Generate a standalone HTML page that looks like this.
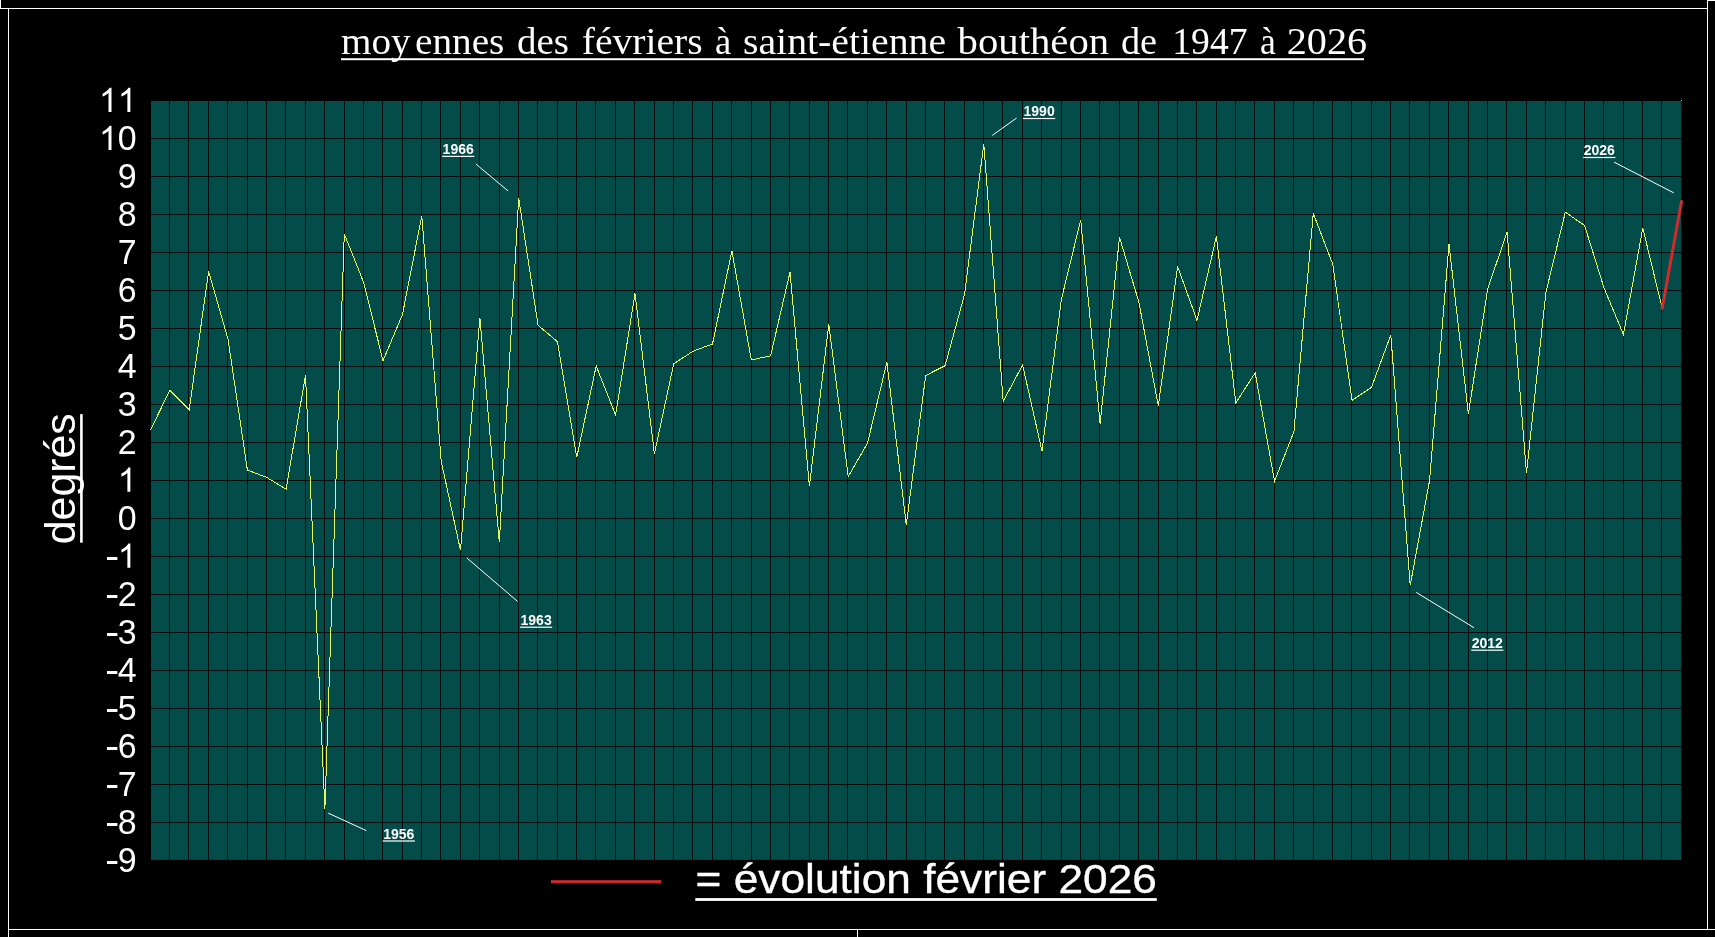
<!DOCTYPE html>
<html lang="fr"><head><meta charset="utf-8"><title>moyennes des février</title>
<style>
html,body{margin:0;padding:0;background:#000;overflow:hidden}
body{width:1715px;height:937px;position:relative;font-family:"Liberation Sans",sans-serif;color:#fff}
svg{position:absolute;left:0;top:0;display:block;will-change:transform}
.t{font-family:"Liberation Serif",serif;fill:#fff}
.a{font-family:"Liberation Sans",sans-serif;fill:#fff}
.b{font-family:"Liberation Sans",sans-serif;font-weight:bold;fill:#fff}
</style></head><body>
<svg width="1715" height="937" viewBox="0 0 1715 937">
<rect x="0" y="0" width="1715" height="937" fill="#000"/>
<g fill="#fff" shape-rendering="crispEdges">
<rect x="0" y="0" width="1" height="9"/>
<rect x="0" y="8" width="1708" height="1"/>
<rect x="8" y="8" width="1" height="929"/>
<rect x="1707" y="0" width="1" height="930"/>
<rect x="1707" y="0" width="8" height="1"/>
<rect x="8" y="929" width="1707" height="1"/>
<rect x="857" y="929" width="1" height="8"/>
</g>
<rect x="151" y="101" width="1530.2" height="758.9" fill="#034c4a"/>
<path d="M169.5 101V860M188.5 101V860M208.5 101V860M227.5 101V860M247.5 101V860M266.5 101V860M285.5 101V860M305.5 101V860M324.5 101V860M344.5 101V860M363.5 101V860M382.5 101V860M402.5 101V860M421.5 101V860M440.5 101V860M460.5 101V860M479.5 101V860M499.5 101V860M518.5 101V860M537.5 101V860M557.5 101V860M576.5 101V860M595.5 101V860M615.5 101V860M634.5 101V860M654.5 101V860M673.5 101V860M692.5 101V860M712.5 101V860M731.5 101V860M751.5 101V860M770.5 101V860M789.5 101V860M809.5 101V860M828.5 101V860M847.5 101V860M867.5 101V860M886.5 101V860M906.5 101V860M925.5 101V860M944.5 101V860M964.5 101V860M983.5 101V860M1002.5 101V860M1022.5 101V860M1041.5 101V860M1061.5 101V860M1080.5 101V860M1099.5 101V860M1119.5 101V860M1138.5 101V860M1158.5 101V860M1177.5 101V860M1196.5 101V860M1216.5 101V860M1235.5 101V860M1254.5 101V860M1274.5 101V860M1293.5 101V860M1313.5 101V860M1332.5 101V860M1351.5 101V860M1371.5 101V860M1390.5 101V860M1409.5 101V860M1429.5 101V860M1448.5 101V860M1468.5 101V860M1487.5 101V860M1506.5 101V860M1526.5 101V860M1545.5 101V860M1565.5 101V860M1584.5 101V860M1603.5 101V860M1623.5 101V860M1642.5 101V860M1661.5 101V860M151 138.5H1681M151 176.5H1681M151 214.5H1681M151 252.5H1681M151 290.5H1681M151 328.5H1681M151 366.5H1681M151 404.5H1681M151 442.5H1681M151 480.5H1681M151 518.5H1681M151 556.5H1681M151 594.5H1681M151 632.5H1681M151 670.5H1681M151 708.5H1681M151 746.5H1681M151 784.5H1681M151 822.5H1681" stroke="#000d0d" stroke-width="1" fill="none" shape-rendering="crispEdges"/>
<path d="M150.4 430.2 L169.8 390.4 L189.2 409.7 L208.6 271.4 L228.0 339.1 L247.4 470.1 L266.7 477.4 L286.1 489.1 L305.5 375.2 L324.9 809.1 L344.3 233.8 L363.6 282.4 L383.0 360.7 L402.4 314.7 L421.8 216.0 L441.2 461.4 L460.5 550.3 L479.9 317.8 L499.3 542.3 L518.7 198.1 L538.1 325.4 L557.5 341.7 L576.8 457.2 L596.2 366.0 L615.6 415.0 L635.0 293.5 L654.4 453.8 L673.7 363.8 L693.1 351.2 L712.5 344.0 L731.9 250.9 L751.3 360.0 L770.6 355.8 L790.0 272.2 L809.4 486.1 L828.8 324.2 L848.2 476.6 L867.5 443.2 L886.9 362.2 L906.3 524.9 L925.7 375.5 L945.1 365.7 L964.5 294.6 L983.8 143.8 L1003.2 401.4 L1022.6 364.9 L1042.0 451.1 L1061.4 299.2 L1080.7 220.1 L1100.1 423.8 L1119.5 237.2 L1138.9 302.2 L1158.3 405.9 L1177.6 266.5 L1197.0 320.4 L1216.4 236.5 L1235.8 402.9 L1255.2 372.9 L1274.5 481.2 L1293.9 431.8 L1313.3 213.3 L1332.7 264.2 L1352.1 400.2 L1371.5 387.3 L1390.8 334.9 L1410.2 585.3 L1429.6 480.4 L1449.0 244.1 L1468.4 413.9 L1487.7 288.9 L1507.1 231.9 L1526.5 473.2 L1545.9 292.3 L1565.3 212.2 L1584.6 225.5 L1604.0 287.8 L1623.4 334.5 L1642.8 228.1 L1662.2 308.3" stroke="#e2f760" stroke-width="1" fill="none" stroke-linejoin="miter" shape-rendering="crispEdges"/>
<path d="M1662.2 308.3L1681.5 201.5" stroke="#d02b2b" stroke-width="3" fill="none" stroke-linecap="round"/>
<rect x="1681" y="100" width="1" height="1" fill="#ddd"/>
<text class="b" x="442.6" y="154.1" font-size="14" textLength="31.2" lengthAdjust="spacingAndGlyphs">1966</text>
<rect x="442.1" y="155.8" width="32.2" height="1.2" fill="#fff"/>
<path d="M475.9 164.0L508.0 190.9" stroke="#fff" stroke-width="1" fill="none"/>
<text class="b" x="383.2" y="838.8" font-size="14" textLength="31.2" lengthAdjust="spacingAndGlyphs">1956</text>
<rect x="382.7" y="840.4" width="32.2" height="1.2" fill="#fff"/>
<path d="M328.2 813.1L366.3 830.6" stroke="#fff" stroke-width="1" fill="none"/>
<text class="b" x="520.5" y="625.0" font-size="14" textLength="31.2" lengthAdjust="spacingAndGlyphs">1963</text>
<rect x="520.0" y="626.6" width="32.2" height="1.2" fill="#fff"/>
<path d="M466.8 557.9L517.7 601.5" stroke="#fff" stroke-width="1" fill="none"/>
<text class="b" x="1023.5" y="116.1" font-size="14" textLength="31.2" lengthAdjust="spacingAndGlyphs">1990</text>
<rect x="1023.0" y="117.9" width="32.2" height="1.2" fill="#fff"/>
<path d="M992.3 135.4L1016.6 118.0" stroke="#fff" stroke-width="1" fill="none"/>
<text class="b" x="1583.7" y="155.1" font-size="14" textLength="31.2" lengthAdjust="spacingAndGlyphs">2026</text>
<rect x="1583.2" y="156.9" width="32.2" height="1.2" fill="#fff"/>
<path d="M1614.0 162.1L1673.7 192.8" stroke="#fff" stroke-width="1" fill="none"/>
<text class="b" x="1471.7" y="647.8" font-size="14" textLength="31.2" lengthAdjust="spacingAndGlyphs">2012</text>
<rect x="1471.2" y="649.6" width="32.2" height="1.2" fill="#fff"/>
<path d="M1416.2 592.4L1474.0 627.7" stroke="#fff" stroke-width="1" fill="none"/>
<path d="M763 0H583V1147Q518 1085 412 1023Q307 961 223 930V1104Q374 1175 487 1276Q600 1377 647 1472H763Z" fill="#fff" transform="translate(117.72,111.9) scale(0.01658,-0.01649)"/>
<path d="M763 0H583V1147Q518 1085 412 1023Q307 961 223 930V1104Q374 1175 487 1276Q600 1377 647 1472H763Z" fill="#fff" transform="translate(98.85,111.9) scale(0.01658,-0.01649)"/>
<text class="a" transform="translate(136.60,149.9) scale(0.97,1)" font-size="35" text-anchor="end">0</text>
<path d="M763 0H583V1147Q518 1085 412 1023Q307 961 223 930V1104Q374 1175 487 1276Q600 1377 647 1472H763Z" fill="#fff" transform="translate(98.85,149.9) scale(0.01658,-0.01649)"/>
<text class="a" transform="translate(136.60,187.9) scale(0.97,1)" font-size="35" text-anchor="end">9</text>
<text class="a" transform="translate(136.60,225.9) scale(0.97,1)" font-size="35" text-anchor="end">8</text>
<text class="a" transform="translate(136.60,263.9) scale(0.97,1)" font-size="35" text-anchor="end">7</text>
<text class="a" transform="translate(136.60,301.9) scale(0.97,1)" font-size="35" text-anchor="end">6</text>
<text class="a" transform="translate(136.60,339.9) scale(0.97,1)" font-size="35" text-anchor="end">5</text>
<text class="a" transform="translate(136.60,377.9) scale(0.97,1)" font-size="35" text-anchor="end">4</text>
<text class="a" transform="translate(136.60,415.9) scale(0.97,1)" font-size="35" text-anchor="end">3</text>
<text class="a" transform="translate(136.60,453.9) scale(0.97,1)" font-size="35" text-anchor="end">2</text>
<path d="M763 0H583V1147Q518 1085 412 1023Q307 961 223 930V1104Q374 1175 487 1276Q600 1377 647 1472H763Z" fill="#fff" transform="translate(117.72,491.8) scale(0.01658,-0.01649)"/>
<text class="a" transform="translate(136.60,529.8) scale(0.97,1)" font-size="35" text-anchor="end">0</text>
<path d="M763 0H583V1147Q518 1085 412 1023Q307 961 223 930V1104Q374 1175 487 1276Q600 1377 647 1472H763Z" fill="#fff" transform="translate(117.72,567.8) scale(0.01658,-0.01649)"/>
<rect x="107.0" y="557.0" width="10.4" height="3" fill="#fff"/>
<text class="a" transform="translate(136.60,605.8) scale(0.97,1)" font-size="35" text-anchor="end">2</text>
<rect x="107.0" y="595.0" width="10.4" height="3" fill="#fff"/>
<text class="a" transform="translate(136.60,643.8) scale(0.97,1)" font-size="35" text-anchor="end">3</text>
<rect x="107.0" y="633.0" width="10.4" height="3" fill="#fff"/>
<text class="a" transform="translate(136.60,681.8) scale(0.97,1)" font-size="35" text-anchor="end">4</text>
<rect x="107.0" y="671.0" width="10.4" height="3" fill="#fff"/>
<text class="a" transform="translate(136.60,719.8) scale(0.97,1)" font-size="35" text-anchor="end">5</text>
<rect x="107.0" y="709.0" width="10.4" height="3" fill="#fff"/>
<text class="a" transform="translate(136.60,757.8) scale(0.97,1)" font-size="35" text-anchor="end">6</text>
<rect x="107.0" y="747.0" width="10.4" height="3" fill="#fff"/>
<text class="a" transform="translate(136.60,795.8) scale(0.97,1)" font-size="35" text-anchor="end">7</text>
<rect x="107.0" y="785.0" width="10.4" height="3" fill="#fff"/>
<text class="a" transform="translate(136.60,833.8) scale(0.97,1)" font-size="35" text-anchor="end">8</text>
<rect x="107.0" y="823.0" width="10.4" height="3" fill="#fff"/>
<text class="a" transform="translate(136.60,871.8) scale(0.97,1)" font-size="35" text-anchor="end">9</text>
<rect x="107.0" y="861.0" width="10.4" height="3" fill="#fff"/>
<text class="t" x="341.0" y="53.8" font-size="38.4" textLength="69.6" lengthAdjust="spacingAndGlyphs">moy</text>
<text class="t" x="415.1" y="53.8" font-size="38.4" textLength="89.3" lengthAdjust="spacingAndGlyphs">ennes</text>
<text class="t" x="516.9" y="53.8" font-size="38.4" textLength="52.0" lengthAdjust="spacingAndGlyphs">des</text>
<text class="t" x="581.8" y="53.8" font-size="38.4" textLength="120.9" lengthAdjust="spacingAndGlyphs">févriers</text>
<text class="t" x="714.9" y="53.8" font-size="38.4" textLength="16.2" lengthAdjust="spacingAndGlyphs">à</text>
<text class="t" x="743.0" y="53.8" font-size="38.4" textLength="203.1" lengthAdjust="spacingAndGlyphs">saint-étienne</text>
<text class="t" x="957.6" y="53.8" font-size="38.4" textLength="151.5" lengthAdjust="spacingAndGlyphs">bouthéon</text>
<text class="t" x="1120.9" y="53.8" font-size="38.4" textLength="36.1" lengthAdjust="spacingAndGlyphs">de</text>
<text class="t" x="1172.3" y="53.8" font-size="38.4" textLength="75.2" lengthAdjust="spacingAndGlyphs">1947</text>
<text class="t" x="1260.0" y="53.8" font-size="38.4" textLength="15.8" lengthAdjust="spacingAndGlyphs">à</text>
<text class="t" x="1286.8" y="53.8" font-size="38.4" textLength="80.3" lengthAdjust="spacingAndGlyphs">2026</text>
<rect x="341" y="58.2" width="1023" height="2" fill="#fff"/>
<text class="a" transform="translate(74.6,544.2) rotate(-90)" font-size="42" textLength="130.8" lengthAdjust="spacingAndGlyphs">degrés</text>
<rect x="80.1" y="414.1" width="2.6" height="128.6" fill="#fff"/>
<rect x="551" y="880.2" width="110" height="3" fill="#d02b2b"/>
<text class="a" x="695.5" y="893.3" font-size="41.5" textLength="461.5" lengthAdjust="spacingAndGlyphs" stroke="#fff" stroke-width="0.35">= évolution février 2026</text>
<rect x="695.3" y="898.1" width="461.5" height="2.8" fill="#fff"/>
</svg></body></html>
